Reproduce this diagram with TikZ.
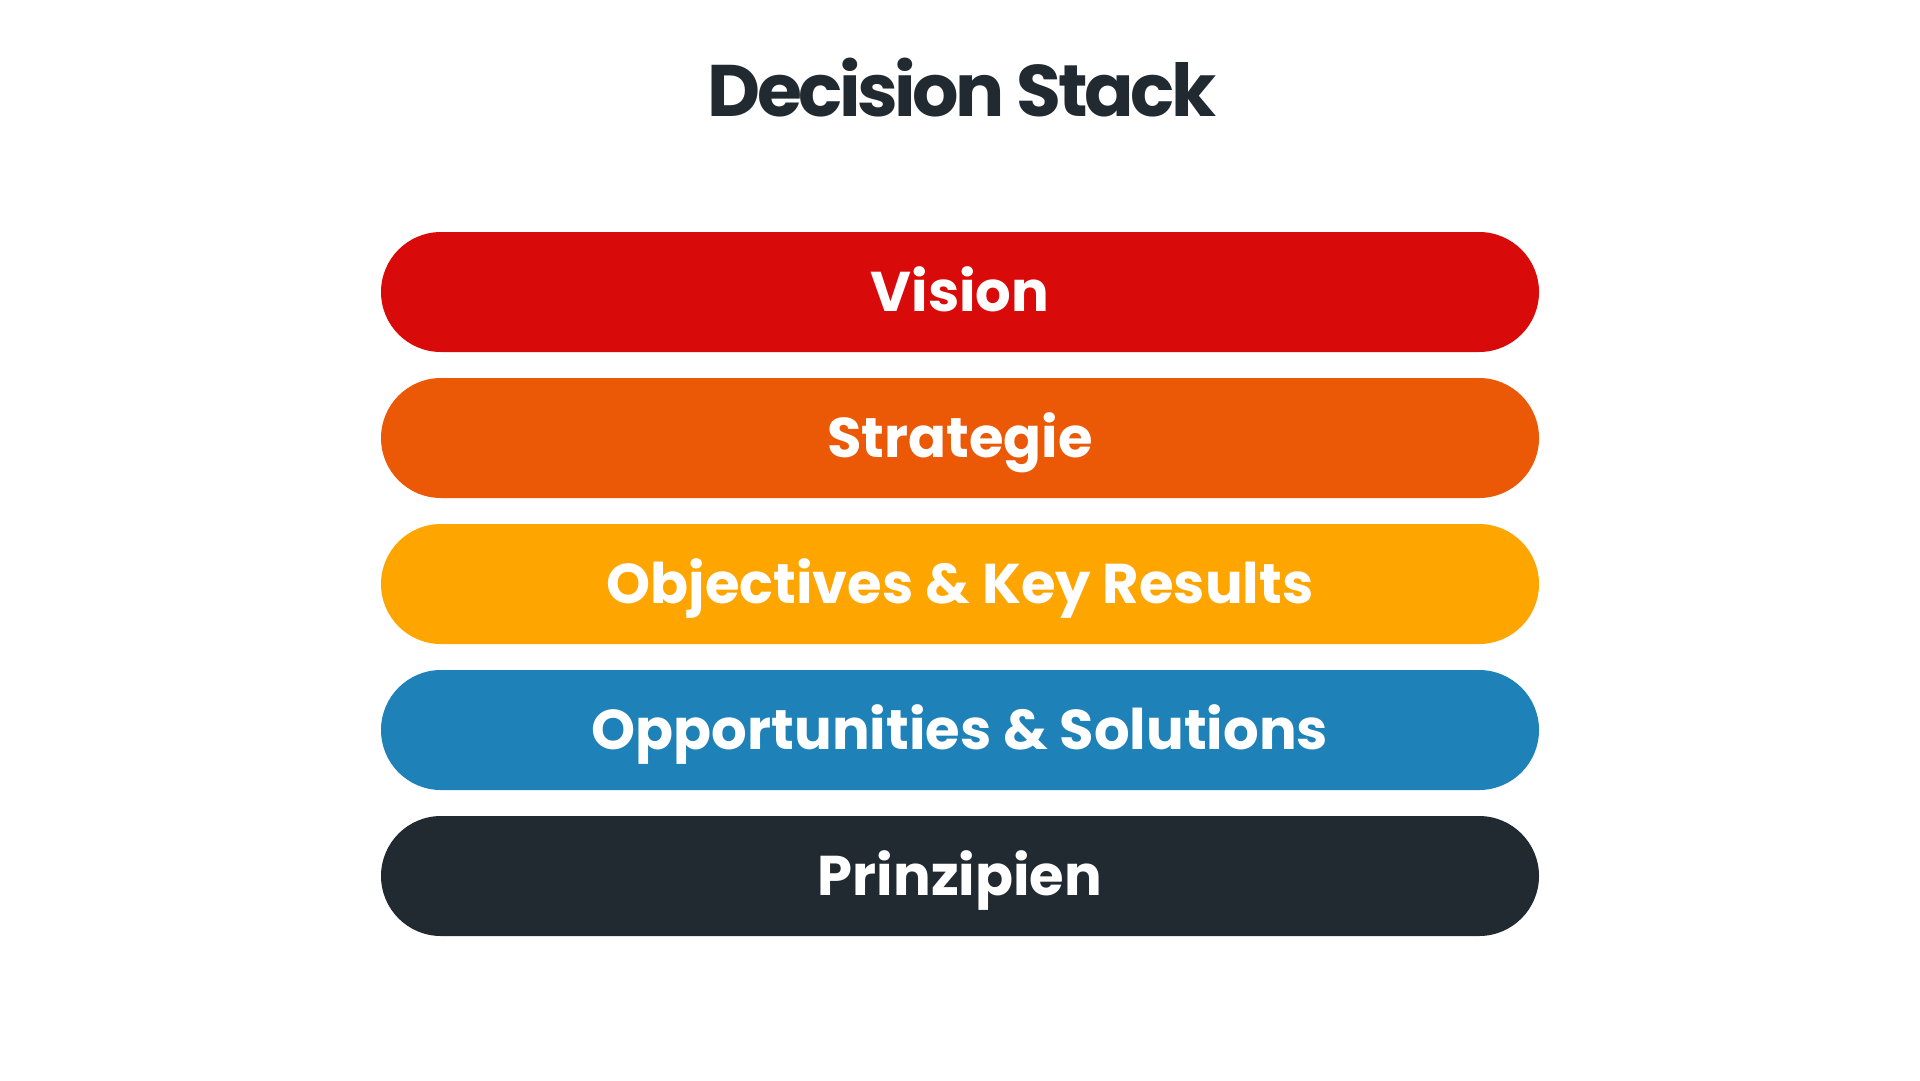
\documentclass[tikz,border=0pt]{standalone}
\usepackage{fontspec}
\setmainfont{Poppins}[BoldFont={* Bold}]
\newfontfamily\titlefont{Poppins Bold}[LetterSpace=-4.8]
\definecolor{cvision}{HTML}{D90A0A}
\definecolor{cstrat}{HTML}{EB5806}
\definecolor{cokr}{HTML}{FFA500}
\definecolor{copp}{HTML}{1E82B8}
\definecolor{cprinz}{HTML}{222A31}
\definecolor{ctitle}{HTML}{222A31}
\tikzset{
  bar/.style={rectangle, rounded corners=60pt, minimum width=1158pt, minimum height=120pt,
    inner sep=0pt, text=white, font=\fontsize{56}{64}\selectfont\bfseries,
    text height=39pt, text depth=0pt},
  titletext/.style={text=ctitle, inner sep=0pt, anchor=base, font=\fontsize{73}{84}\titlefont}
}
\begin{document}
\begin{tikzpicture}[x=1pt,y=-1pt]
\useasboundingbox[fill=white] (0,0) rectangle (1920,1080);
\node[titletext] (title) at (962,116) {Decision Stack};
\node[bar, fill=cvision] (vision) at (960,292) {Vision};
\node[bar, fill=cstrat] (strat) at (960,438) {Strategie};
\node[bar, fill=cokr] (okr) at (960,584) {Objectives \& Key Results};
\node[bar, fill=copp] (opp) at (960,730) {Opportunities \& Solutions};
\node[bar, fill=cprinz] (prinz) at (960,876) {Prinzipien};
\end{tikzpicture}
\end{document}
